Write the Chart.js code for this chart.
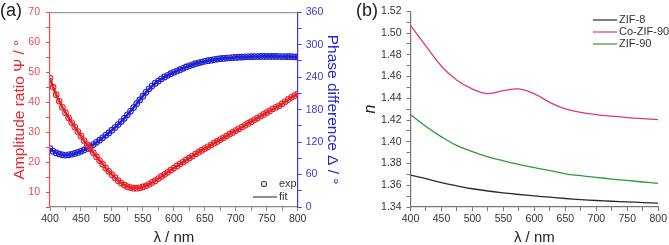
<!DOCTYPE html>
<html>
<head>
<meta charset="utf-8">
<script src="https://cdn.jsdelivr.net/npm/chart.js@4"></script>
<style>
  html, body { margin: 0; padding: 0; background: #fff; overflow: hidden; }
  #wrap { position: relative; width: 669px; height: 245px; }
  canvas { position: absolute; top: 0; }
  .panel { position: absolute; top: 0; font: 18px "Liberation Sans", Arial, sans-serif; color: #222; line-height: 20px; }
</style>
</head>
<body>
<div id="wrap">
  <canvas id="chartA" width="345" height="245" style="left:0"></canvas>
  <canvas id="chartB" width="324" height="245" style="left:345px"></canvas>
  <div class="panel" style="left:0">(a)</div>
  <div class="panel" style="left:356px">(b)</div>
</div>
<script>
// ---- panel (a): ellipsometry data ----
const wavelengthA = [
  400, 405, 410, 415, 420, 425, 430, 435, 440, 445, 450, 455, 460, 465, 470, 475, 480,
  485, 490, 495, 500, 505, 510, 515, 520, 525, 530, 535, 540, 545, 550, 555, 560,
  565, 570, 575, 580, 585, 590, 595, 600, 605, 610, 615, 620, 625, 630, 635, 640,
  645, 650, 655, 660, 665, 670, 675, 680, 685, 690, 695, 700, 705, 710, 715, 720,
  725, 730, 735, 740, 745, 750, 755, 760, 765, 770, 775, 780, 785, 790, 795, 800
];
const psi = [
  48.0, 45.0, 42.5, 40.3, 38.3, 36.5, 34.8, 33.2, 31.7, 30.2, 28.7, 27.2, 25.8, 24.4, 23.1, 21.8, 20.5,
  19.3, 18.0, 16.9, 15.8, 14.8, 13.8, 13.0, 12.3, 11.8, 11.5, 11.3, 11.3, 11.4, 11.7, 12.1, 12.6,
  13.2, 13.8, 14.5, 15.2, 15.9, 16.6, 17.3, 18.0, 18.7, 19.4, 20.0, 20.7, 21.4, 22.0, 22.7, 23.3,
  23.9, 24.5, 25.1, 25.7, 26.3, 26.9, 27.5, 28.1, 28.7, 29.3, 29.9, 30.5, 31.1, 31.7, 32.3, 32.9,
  33.5, 34.1, 34.7, 35.3, 35.9, 36.5, 37.1, 37.8, 38.3, 38.8, 39.5, 40.2, 40.9, 41.6, 42.2, 42.8
];
const delta = [
  108, 103, 100, 98, 96.5, 96, 96.5, 97.5, 99, 101, 103, 105.5, 108.5, 112, 115.5, 119.5, 123.5,
  128, 132.5, 137, 142, 147, 152.5, 158, 164, 170.5, 177, 184, 191, 198, 205, 212, 218.5,
  224, 229, 233, 237, 240.5, 243.5, 246.5, 249, 251.5, 254, 256.5, 259, 261, 263, 265, 266.5,
  268, 269.5, 270.5, 271.5, 272.5, 273.5, 274.2, 274.8, 275.3, 275.8, 276.2, 276.6, 277, 277.3, 277.6, 277.8,
  278, 278.2, 278.3, 278.4, 278.5, 278.5, 278.5, 278.5, 278.4, 278.3, 278.2, 278.1, 278, 277.9, 277.7, 277.5
];
const legendA = ["exp", "fit"];

// ---- panel (b): refractive index ----
const wavelengthB = [400, 425, 450, 475, 500, 525, 550, 575, 600, 625, 650, 675, 700, 725, 750, 775, 800];
const seriesB = ["ZIF-8", "Co-ZIF-90", "ZIF-90"];
const nZIF8 = [1.3694, 1.3660, 1.3625, 1.3595, 1.3568, 1.3547, 1.3530, 1.3515, 1.3502, 1.3490, 1.3478, 1.3468, 1.3460, 1.3453, 1.3447, 1.3441, 1.3436];
const nCoZIF90 = [1.507, 1.488, 1.4695, 1.4565, 1.4485, 1.4443, 1.4470, 1.4486, 1.4440, 1.4362, 1.4302, 1.4270, 1.4250, 1.4235, 1.4222, 1.4212, 1.4204];
const nZIF90 = [1.4250, 1.4140, 1.4045, 1.3965, 1.3910, 1.3862, 1.3825, 1.3792, 1.3762, 1.3735, 1.3705, 1.3688, 1.3672, 1.3657, 1.3644, 1.3630, 1.3617];

const FONT = "'Liberation Sans', Arial, sans-serif";
Chart.defaults.font.family = FONT;
Chart.defaults.animation = false;

const RED = "#e8262c", BLUE = "#2424d8", AXRED = "#ec4a4f", AXBLUE = "#3b3bd2";
const pts = (xs, ys) => xs.map((x, i) => ({ x: x, y: ys[i] }));

// draws a small legend inside the plot area
const insideLegend = {
  id: "insideLegend",
  afterDraw(chart, args, opts) {
    const ctx = chart.ctx;
    ctx.save();
    ctx.font = "11px " + FONT;
    ctx.textBaseline = "middle";
    opts.items.forEach(it => {
      ctx.strokeStyle = it.color;
      ctx.lineWidth = 1.2;
      ctx.beginPath();
      if (it.kind === "point") {
        ctx.arc(it.x + 11, it.y, 2.5, 0, Math.PI * 2);
      } else {
        ctx.moveTo(it.x, it.y);
        ctx.lineTo(it.x + 24, it.y);
      }
      ctx.stroke();
      ctx.fillStyle = "#333";
      ctx.fillText(it.label, it.x + 26, it.y);
    });
    ctx.restore();
  }
};

const xAxis = (color) => ({
  type: "linear", min: 400, max: 800,
  afterFit: s => { s.height = 38; },
  ticks: { stepSize: 25, autoSkip: false, color: "#333", font: { size: 10.5 }, padding: 2, maxRotation: 0,
           callback: v => (v % 50 === 0 ? v : "") },
  grid: { drawOnChartArea: false, tickLength: 4, color: color },
  border: { color: color, width: 1.2 },
  title: { display: true, text: "λ / nm", color: "#222", font: { size: 15, lineHeight: 1.0 }, padding: 0 }
});

new Chart(document.getElementById("chartA"), {
  type: "line",
  data: {
    datasets: [
      { label: legendA[0], data: pts(wavelengthA, psi), yAxisID: "y", showLine: false,
        pointRadius: 2.8, pointBorderWidth: 1.1, pointBorderColor: RED, pointBackgroundColor: "rgba(0,0,0,0)", order: 2 },
      { label: legendA[1], data: pts(wavelengthA, psi), yAxisID: "y", borderColor: "#e0262c",
        borderWidth: 2.6, pointRadius: 0, tension: 0.3, order: 1 },
      { label: legendA[0], data: pts(wavelengthA, delta), yAxisID: "y2", showLine: false,
        pointRadius: 2.8, pointBorderWidth: 1.1, pointBorderColor: BLUE, pointBackgroundColor: "rgba(0,0,0,0)", order: 4 },
      { label: legendA[1], data: pts(wavelengthA, delta), yAxisID: "y2", borderColor: "#2222cc",
        borderWidth: 2.6, pointRadius: 0, tension: 0.3, order: 3 }
    ]
  },
  options: {
    responsive: false,
    layout: { padding: { top: 7, left: 0, right: 0, bottom: 0 } },
    plugins: {
      legend: { display: false },
      tooltip: { enabled: false },
      insideLegend: { items: [
        { label: legendA[0], kind: "point", color: "#444", x: 253, y: 184 },
        { label: legendA[1], kind: "line", color: "#444", x: 253, y: 197 }
      ] }
    },
    scales: {
      x: xAxis("#8a8a8a"),
      xTop: {
        type: "linear", position: "top", min: 400, max: 800,
        afterFit: s => { s.height = 0; },
        ticks: { display: false },
        grid: { display: false },
        border: { color: "#9a9a9a", width: 1.2 }
      },
      y: {
        position: "left", min: 5, max: 70,
        afterFit: s => { s.width = 50; },
        ticks: { stepSize: 5, autoSkip: false, color: AXRED, font: { size: 10.5 }, padding: 6,
                 callback: v => (v % 10 === 0 ? v : "") },
        grid: { drawOnChartArea: false, tickLength: 4, color: AXRED },
        border: { color: AXRED, width: 1.2 },
        title: { display: true, text: "Amplitude ratio Ψ / °", color: RED, font: { size: 15.5 }, padding: { top: 10 } }
      },
      y2: {
        position: "right", min: 0, max: 360,
        afterFit: s => { s.width = 47.3; },
        ticks: { stepSize: 30, autoSkip: false, color: AXBLUE, font: { size: 10.5 }, padding: 4,
                 callback: v => (v % 60 === 0 ? v : "") },
        grid: { drawOnChartArea: false, tickLength: 4, color: AXBLUE },
        border: { color: AXBLUE, width: 1.2 },
        title: { display: true, text: "Phase difference Δ / °", color: BLUE, font: { size: 15.5 }, padding: { top: 3 } }
      }
    }
  },
  plugins: [insideLegend]
});

const colorsB = ["#2a2a2a", "#e6337f", "#2f9a3a"];
const valuesB = [nZIF8, nCoZIF90, nZIF90];

new Chart(document.getElementById("chartB"), {
  type: "line",
  data: {
    datasets: seriesB.map((name, i) => ({
      label: name, data: pts(wavelengthB, valuesB[i]),
      borderColor: colorsB[i], borderWidth: 1.3, pointRadius: 0, tension: 0.4
    }))
  },
  options: {
    responsive: false,
    layout: { padding: { top: 7, left: 0, right: 9, bottom: 0 } },
    plugins: {
      legend: { display: false },
      tooltip: { enabled: false },
      insideLegend: { items: seriesB.map((name, i) => ({
        label: name, kind: "line", color: colorsB[i], x: 248, y: 20 + i * 12
      })) }
    },
    scales: {
      x: xAxis("#777"),
      y: {
        position: "left", min: 1.34, max: 1.52,
        afterFit: s => { s.width = 65.5; },
        ticks: { stepSize: 0.01, autoSkip: false, color: "#333", font: { size: 10.5 }, padding: 5,
                 callback: v => (Math.round(v * 100) % 2 === 0 ? v.toFixed(2) : "") },
        grid: { drawOnChartArea: false, tickLength: 4, color: "#777" },
        border: { color: "#777", width: 1.2 },
        title: { display: true, text: "n", color: "#222", font: { size: 16, style: "italic" }, padding: { top: 16 } }
      }
    }
  },
  plugins: [insideLegend]
});
</script>
</body>
</html>
